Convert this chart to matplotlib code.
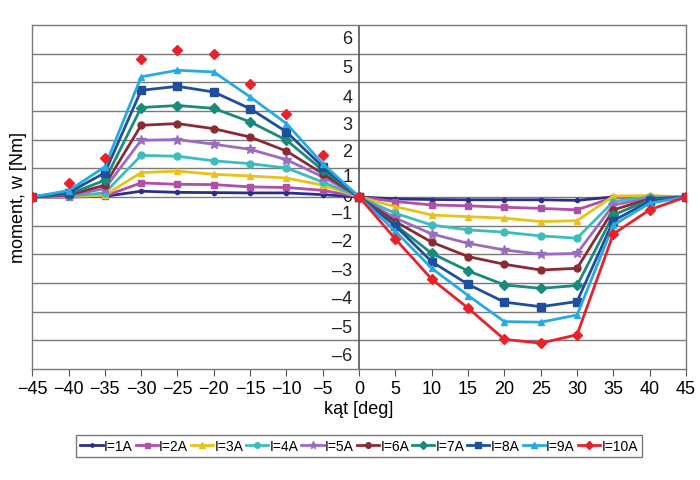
import matplotlib.pyplot as plt

plt.rcParams['font.family'] = ['Liberation Sans', 'DejaVu Sans']

# kąt [deg]
angle_left = [-45, -40, -35, -30, -25, -20, -15, -10, -5, 0]
angle_right = [0, 5, 10, 15, 20, 25, 30, 35, 40, 45]

labels = ["I=1A", "I=2A", "I=3A", "I=4A", "I=5A", "I=6A", "I=7A", "I=8A", "I=9A", "I=10A"]

# moment, w [Nm], lewa strona (-45..0)
m1_left = [0, 0.0, 0.02, 0.20, 0.16, 0.15, 0.14, 0.14, 0.08, 0]
m2_left = [0, 0.0, 0.03, 0.49, 0.44, 0.43, 0.35, 0.33, 0.23, 0]
m3_left = [0, 0.02, 0.06, 0.85, 0.90, 0.79, 0.73, 0.66, 0.41, 0]
m4_left = [0, 0.03, 0.14, 1.45, 1.42, 1.26, 1.16, 1.01, 0.52, 0]
m5_left = [0, 0.05, 0.29, 1.98, 2.00, 1.84, 1.66, 1.30, 0.70, 0]
m6_left = [0, 0.07, 0.41, 2.50, 2.56, 2.38, 2.09, 1.60, 0.81, 0]
m7_left = [0, 0.10, 0.58, 3.12, 3.19, 3.09, 2.62, 1.98, 0.93, 0]
m8_left = [0, 0.15, 0.84, 3.72, 3.86, 3.66, 3.08, 2.27, 1.05, 0]
m9_left = [0, 0.22, 1.05, 4.19, 4.42, 4.36, 3.49, 2.56, 1.16, 0]
m10_left = [0, 0.49, 1.37, 4.83, 5.12, 4.98, 3.93, 2.88, 1.48, 0]

# moment, w [Nm], prawa strona (0..45)
m1_right = [0, -0.07, -0.09, -0.10, -0.10, -0.10, -0.12, 0.0, 0.0, 0]
m2_right = [0, -0.16, -0.28, -0.31, -0.36, -0.40, -0.45, -0.02, 0.0, 0]
m3_right = [0, -0.34, -0.63, -0.69, -0.74, -0.86, -0.83, 0.03, 0.05, 0]
m4_right = [0, -0.57, -0.98, -1.15, -1.23, -1.36, -1.44, -0.16, 0.0, 0]
m5_right = [0, -0.74, -1.29, -1.62, -1.85, -2.00, -1.97, -0.28, -0.05, 0]
m6_right = [0, -0.86, -1.58, -2.08, -2.35, -2.55, -2.49, -0.45, -0.07, 0]
m7_right = [0, -0.98, -1.97, -2.58, -3.07, -3.19, -3.09, -0.63, -0.10, 0]
m8_right = [0, -1.01, -2.26, -3.05, -3.67, -3.83, -3.65, -0.83, -0.15, 0]
m9_right = [0, -1.20, -2.49, -3.44, -4.35, -4.37, -4.12, -0.98, -0.22, 0]
m10_right = [0, -1.47, -2.87, -3.88, -4.97, -5.10, -4.81, -1.29, -0.45, 0]

left = [m1_left, m2_left, m3_left, m4_left, m5_left, m6_left, m7_left, m8_left, m9_left, m10_left]
right = [m1_right, m2_right, m3_right, m4_right, m5_right, m6_right, m7_right, m8_right, m9_right, m10_right]

# etykiety osi Y (rysowane przy osi x=0) i ich położenie na rysunku
ytick_values = [-6, -5, -4, -3, -2, -1, 0, 1, 2, 3, 4, 5, 6]
ytick_pos = [-5.54, -4.55, -3.55, -2.55, -1.56, -0.59, 0, 0.73, 1.57, 2.54, 3.48, 4.53, 5.54]

colors = ['#2b2f8a', '#b04fa8', '#e8c21a', '#3bbdbd', '#9a6cc0',
          '#8b2a32', '#1a8a7a', '#1f4e9c', '#27aae1', '#e8212a']
markers = ['o', 's', '^', 'o', '*', 'o', 'D', 's', '^', 'D']
msizes = [3, 4.5, 5, 5, 7, 5, 5, 6, 5, 5]

fig = plt.figure(figsize=(7.0, 4.81), dpi=100)
ax = fig.add_axes([0.046, 0.231, 0.934, 0.715])

for i in range(len(labels)):
    c = colors[i]
    # I=10A po lewej stronie - tylko punkty, bez linii
    ls = 'none' if i == 9 else '-'
    ax.plot(angle_left, left[i], color=c, ls=ls, lw=2, marker=markers[i],
            ms=msizes[i], zorder=3)
    ax.plot(angle_right, right[i], color=c, lw=2, marker=markers[i],
            ms=msizes[i], zorder=3, label=labels[i])

ax.set_xlim(-45, 45)
ax.set_ylim(-6, 6)
for v in range(-5, 6):
    ax.axhline(v, color='#7a7a7a', lw=1, zorder=1)
ax.axvline(0, color='#555555', lw=1.2, zorder=1)
for s in ax.spines.values():
    s.set_color('#7a7a7a')
    s.set_linewidth(1)

ax.set_yticks([])
ax.set_xticks(range(-45, 50, 5))
ax.tick_params(axis='x', direction='out', length=5, color='#555555',
               labelsize=13, pad=3)

for v, p in zip(ytick_values, ytick_pos):
    txt = str(v) if v >= 0 else '\u2013' + str(-v)
    ax.text(-0.9, p, txt, ha='right', va='center', fontsize=13,
            color='#222222', zorder=2)

ax.set_xlabel('kąt [deg]', fontsize=13, labelpad=2)
ax.set_ylabel('moment, w [Nm]', fontsize=13, labelpad=4)

ax.legend(loc='center', bbox_to_anchor=(0.5, -0.224), ncol=10, fontsize=10,
          frameon=True, fancybox=False, edgecolor='#555555', handlelength=1.6,
          handletextpad=0.1, columnspacing=0.2, borderpad=0.3,
          markerscale=0.8)

fig.savefig('out.png', dpi=100)
